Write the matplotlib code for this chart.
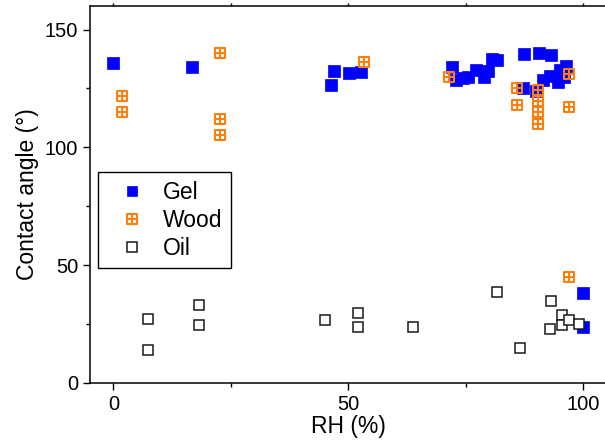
import matplotlib.pyplot as plt
import numpy as np
from matplotlib.path import Path
from matplotlib.ticker import MultipleLocator

plt.rcParams['font.family'] = ['Liberation Sans', 'DejaVu Sans']

# Gel (filled blue squares)
gel_rh = [0.0, 16.8, 47.0, 46.4, 50.1, 52.7,
          72.1, 72.9, 74.5, 75.4, 77.2, 78.8, 79.8, 80.7, 81.7,
          87.4, 90.7, 93.2, 87.1, 90.0, 91.5, 93.0, 94.7, 95.1, 96.4, 96.0,
          100.0, 100.0]
gel_ca = [136.0, 134.3, 132.6, 126.5, 131.4, 132.0,
          134.2, 128.8, 129.5, 129.8, 132.7, 129.9, 132.6, 137.6, 137.0,
          139.7, 140.1, 139.0, 125.2, 124.1, 128.5, 130.5, 127.6, 133.0, 134.4, 129.9,
          38.1, 23.9]

# Wood (orange boxed-plus squares)
wood_rh = [1.8, 1.8, 22.6, 22.6, 22.6, 53.4, 71.4, 86.0, 86.0,
           90.3, 90.3, 90.3, 90.3, 96.9, 96.9, 97.0]
wood_ca = [121.8, 114.9, 140.0, 112.1, 105.1, 136.1, 129.9, 125.2, 117.8,
           124.2, 119.8, 115.0, 109.9, 131.0, 117.0, 44.9]

# Oil (open squares)
oil_rh = [7.3, 7.3, 18.3, 18.2, 45.1, 52.0, 52.0, 63.7, 81.7,
          86.6, 93.2, 93.0, 95.6, 95.6, 96.9, 99.2]
oil_ca = [27.1, 13.9, 32.9, 24.6, 26.6, 29.7, 23.8, 23.8, 38.8,
          14.9, 34.7, 22.8, 28.8, 24.5, 26.8, 25.1]

# square with a cross inside (wood marker)
verts = [(-1, -1), (1, -1), (1, 1), (-1, 1), (-1, -1),
         (0, -1), (0, 1), (-1, 0), (1, 0)]
codes = [Path.MOVETO, Path.LINETO, Path.LINETO, Path.LINETO, Path.CLOSEPOLY,
         Path.MOVETO, Path.LINETO, Path.MOVETO, Path.LINETO]
box_plus = Path(verts, codes)

fig = plt.figure(figsize=(6.05, 4.46), dpi=100)
ax = fig.add_axes([90 / 605, 63 / 446, 516.6 / 605, 377 / 446])

ax.plot(gel_rh, gel_ca, ls='none', marker='s', ms=8.3, mfc='#0000ff', mec='#0000ff',
        mew=0.5, label='Gel')
ax.plot(wood_rh, wood_ca, ls='none', marker=box_plus, ms=7.4, mfc='none', mec='#ff7f0e',
        mew=1.5, label='Wood')
ax.plot(oil_rh, oil_ca, ls='none', marker='s', ms=7.5, mfc='white', mec='#1a1a1a',
        mew=1.1, label='Oil')

ax.set_xlim(-5, 105)
ax.set_ylim(0, 160)
ax.xaxis.set_major_locator(MultipleLocator(50))
ax.xaxis.set_minor_locator(MultipleLocator(25))
ax.yaxis.set_major_locator(MultipleLocator(50))
ax.yaxis.set_minor_locator(MultipleLocator(25))
ax.tick_params(which='both', direction='out', width=1.0, labelsize=14.5)
ax.tick_params(which='major', length=5)
ax.tick_params(which='minor', length=3)
# small mirrored ticks along the top
ax.tick_params(axis='x', which='both', top=True)
for t in ax.xaxis.get_major_ticks() + ax.xaxis.get_minor_ticks():
    t.tick2line.set_markersize(2)
for s in ax.spines.values():
    s.set_linewidth(1.1)

ax.set_xlabel('RH (%)', fontsize=16.5, labelpad=1)
ax.set_ylabel('Contact angle (°)', fontsize=16.5, labelpad=4)

leg = ax.legend(loc='upper left', bbox_to_anchor=(0.0155, 0.56), borderaxespad=0,
                fontsize=16.5, markerscale=0.9, fancybox=False, edgecolor='black',
                framealpha=1, handlelength=2.2, handletextpad=0.25, labelspacing=0.22,
                borderpad=0.38)
leg.get_frame().set_linewidth(1.0)

fig.savefig('out.png', dpi=100)
